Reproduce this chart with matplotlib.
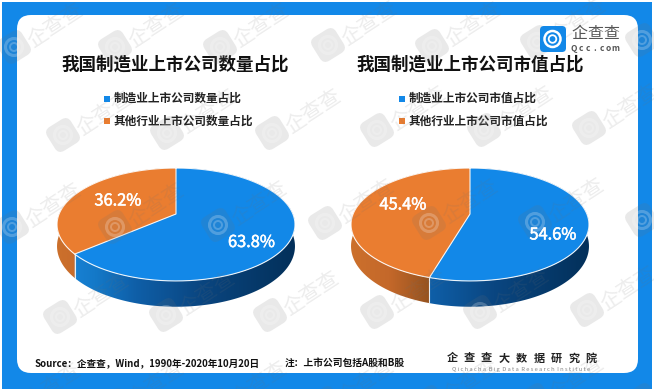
import numpy as np
import matplotlib
matplotlib.use("Agg")
import matplotlib.pyplot as plt
import matplotlib.patheffects as pe
from matplotlib.patches import FancyBboxPatch, Polygon, Rectangle, Circle
from matplotlib.transforms import Affine2D
from matplotlib.colors import to_rgb

plt.rcParams['font.family'] = ['Noto Sans CJK SC', 'DejaVu Sans']

count_shares = [63.8, 36.2]
value_shares = [54.6, 45.4]
count_title = "我国制造业上市公司数量占比"
value_title = "我国制造业上市公司市值占比"
count_legend = ["制造业上市公司数量占比", "其他行业上市公司数量占比"]
value_legend = ["制造业上市公司市值占比", "其他行业上市公司市值占比"]
source_text = "Source：企查查，Wind，1990年-2020年10月20日"
note_text = "注：上市公司包括A股和B股"
institute_cn = "企查查大数据研究院"
institute_en = "Qichacha Big Data Research Institute"

BLUE = '#1288e8'
ORANGE = '#ea7d30'
DARK = '#111111'

# perspective of the tilted disc, in pixels
RX, K, BACK = 116.9, 0.186, 54.5
DEPTH = 21.0
APEX_Y = 214


def project(theta, cx, drop=0.0):
    """Angle clockwise from 12 o'clock -> pixel position on the disc rim."""
    u, v = np.sin(theta), np.cos(theta)
    w = 1 + K * v
    return cx + RX * u / w, APEX_Y - BACK * v / w + drop / w


BLUE_SIDE = [(0, '#1a86dc'), (0.16, '#1479c8'), (0.33, '#0f5fa8'), (0.6, '#0a4681'), (1, '#03305a')]
ORANGE_SIDE = [(0, '#cc702c'), (0.16, '#c4682a'), (0.33, '#95521f'), (1, '#7a4015')]


def gradient(stops):
    xs = [s[0] for s in stops]
    rgb = np.array([to_rgb(s[1]) for s in stops])
    t = np.linspace(0, 1, 256)
    return np.dstack([np.interp(t, xs, rgb[:, i]) for i in range(3)])


def draw_pie(ax, shares, cx):
    split = 2 * np.pi * shares[0] / sum(shares)
    left = cx - 119

    # side wall first, the top face covers the hidden back part
    for a, b, stops in [(0, split, BLUE_SIDE), (split, 2 * np.pi, ORANGE_SIDE)]:
        angles = np.linspace(a, b, 300)
        x0, y0 = project(angles, cx)
        x1, y1 = project(angles, cx, DEPTH)
        pts = np.column_stack([np.r_[x0, x1[::-1]], np.r_[y0, y1[::-1]]])
        clip = Polygon(pts, closed=True, transform=ax.transData, fc='none', ec='none')
        ax.add_patch(clip)
        im = ax.imshow(gradient(stops), extent=(left, left + 238, 320, 160), aspect='auto',
                       interpolation='bilinear', zorder=2)
        im.set_clip_path(clip)

    # seam on the wall between the two slices
    sx0, sy0 = project(split, cx)
    sx1, sy1 = project(split, cx, DEPTH)
    ax.plot([sx0, sx1], [sy0, sy1], color='#e8eef4', lw=0.8, zorder=3)

    # top face
    for a, b, col in [(0, split, BLUE), (split, 2 * np.pi, ORANGE)]:
        angles = np.linspace(a, b, 300)
        xs, ys = project(angles, cx)
        pts = np.column_stack([np.r_[cx, xs], np.r_[APEX_Y, ys]])
        ax.add_patch(Polygon(pts, closed=True, fc=col, ec='none', zorder=4))

    # white rim and slice borders
    angles = np.linspace(0, 2 * np.pi, 600)
    xs, ys = project(angles, cx)
    ax.plot(xs, ys, color='white', lw=0.8, alpha=0.9, zorder=5)
    ax.plot([cx, cx, sx0], [project(0.0, cx)[1], APEX_Y, sy0], color='#f4f4f4', lw=0.8, zorder=5)


def draw_legend(ax, labels, x, ys):
    for lab, y, col in zip(labels, ys, [BLUE, ORANGE]):
        ax.add_patch(Rectangle((x, y - 3), 6, 6, fc=col, ec='none', zorder=6))
        ax.text(x + 10, y, lab, fontsize=8.4, fontweight='bold', color='#222222',
                va='center', ha='left', zorder=6)


def spaced_text(ax, s, x0, x1, y, **kw):
    for ch, x in zip(s, np.linspace(x0, x1, len(s))):
        ax.text(x, y, ch, ha='center', va='center', zorder=7, **kw)


def draw_watermark(ax, x, y):
    rot = Affine2D().rotate_deg_around(x, y, -32) + ax.transData
    ax.add_patch(FancyBboxPatch((x - 14, y - 14), 28, 28, boxstyle='round,pad=0,rounding_size=7',
                                fc='#707070', ec='none', alpha=0.15, transform=rot, zorder=8))
    ax.add_patch(Circle((x, y), 8.5, fc='none', ec='white', lw=2.2, alpha=0.22, zorder=8))
    ax.add_patch(Circle((x, y), 4, fc='none', ec='white', lw=1.4, alpha=0.22, zorder=8))
    ax.text(x + 41, y - 22, "企查查", fontsize=15, color='#707070', alpha=0.13, rotation=33,
            rotation_mode='anchor', ha='center', va='center', zorder=8)


fig = plt.figure(figsize=(6.54, 3.89), dpi=100)
ax = fig.add_axes([0, 0, 1, 1])

# blue frame with rounded white panel
ax.add_patch(Rectangle((2, 2), 650, 387, fc=BLUE, ec='none', zorder=0))
ax.add_patch(FancyBboxPatch((17, 15), 621, 358, boxstyle='round,pad=0,rounding_size=14',
                            fc='white', ec='none', zorder=1))

ax.text(175.5, 65, count_title, fontsize=12.6, fontweight='bold', color=DARK, ha='center', va='center', zorder=6)
ax.text(470, 65, value_title, fontsize=12.6, fontweight='bold', color=DARK, ha='center', va='center', zorder=6)
draw_legend(ax, count_legend, 104, [98.5, 121])
draw_legend(ax, value_legend, 398.5, [98.5, 121])

draw_pie(ax, count_shares, 176)
draw_pie(ax, value_shares, 470)

thicker = [pe.withStroke(linewidth=0.4, foreground='white')]
for x, y, v in [(251.5, 242.5, count_shares[0]), (118, 201, count_shares[1]),
                (553, 235, value_shares[0]), (403, 205, value_shares[1])]:
    ax.text(x, y, f"{v}%", fontsize=11.8, color='white', ha='center', va='center', zorder=9,
            path_effects=thicker)

ax.text(35, 363, source_text, fontsize=6.95, fontweight='bold', color=DARK, ha='left', va='center', zorder=6)
ax.text(285, 363, note_text, fontsize=7, fontweight='bold', color=DARK, ha='left', va='center', zorder=6)
spaced_text(ax, institute_cn, 452, 591, 358, fontsize=8, fontweight='bold', color='#222222')
ax.text(521.5, 369, " ".join(institute_en).replace("   ", "  "), fontsize=4.2, color='#888888', ha='center', va='center', zorder=6)

# logo
ax.add_patch(FancyBboxPatch((540, 26), 26, 26, boxstyle='round,pad=0,rounding_size=4', fc=BLUE, ec='none', zorder=9))
ax.add_patch(Circle((552.5, 39), 8, fc='none', ec='white', lw=1.8, zorder=10))
ax.add_patch(Circle((552.5, 39), 3.8, fc='none', ec='white', lw=1.3, zorder=10))
spaced_text(ax, "企查查", 579, 611, 33.5, fontsize=11.5, color='#555555')
spaced_text(ax, "Qcc.com", 574, 615, 48, fontsize=6, fontweight='bold', color='#555555')

# watermark grid
for x, y in [(63, -42), (167, -42), (272, -44), (377, -44), (484, -46), (589, -46),
             (14, 47), (115, 47), (220, 47), (328, 45), (432, 46), (537, 42), (642, 40),
             (63, 135), (167, 133), (272, 133), (377, 130), (484, 130), (589, 128),
             (12, 227), (115, 227), (218, 225), (325, 223), (429, 223), (535, 222), (642, 220),
             (60, 317), (166, 315), (270, 315), (377, 312), (480, 312), (587, 310),
             (12, 407), (115, 405), (218, 405), (325, 403), (429, 402), (535, 400), (642, 400)]:
    draw_watermark(ax, x, y)

ax.set_xlim(0, 654)
ax.set_ylim(389, 0)
ax.axis('off')

fig.savefig('out.png', dpi=100)
